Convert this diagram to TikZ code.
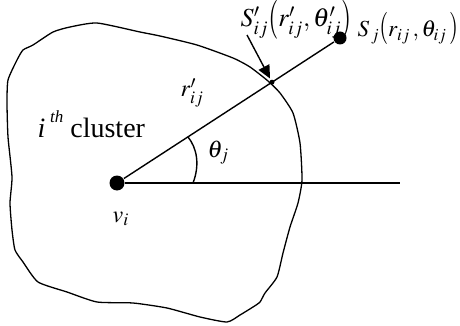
\documentclass[tikz,border=0pt]{standalone}
\usepackage{mathptmx}
\usepackage{fontspec}
\setmainfont{Liberation Serif}
\usepackage{tikz}
\usetikzlibrary{arrows.meta,calc,positioning}
\newcommand{\lpar}[2]{\raisebox{#2}{\scalebox{1}[#1]{$($}}}
\newcommand{\rpar}[2]{\raisebox{#2}{\scalebox{1}[#1]{$)$}}}

\begin{document}
\begin{tikzpicture}[x=1pt,y=-1pt,line width=1.4pt,
  bigdot/.style={circle,fill=black,inner sep=0pt},
  mlab/.style={font=\fontsize{24}{28}\selectfont,inner sep=0pt}]
  \useasboundingbox (0,0) rectangle (460,326);
  \draw[line width=1.3pt] plot[smooth cycle,tension=0.35] coordinates {
    (97,23) (140,32) (160,36) (197,45) (233,58) (250,67) (268,81) (280,93)
    (293,113) (300,143) (302,180) (298,203) (290,227) (283,253) (277,277)
    (265,293) (260,302) (253,307) (240,315) (227,322) (200,317) (167,308)
    (133,303) (97,302) (67,292) (38,282) (23,262) (15,250) (12,230) (10,203)
    (12,177) (8,137) (7,103) (8,80) (17,60) (23,50) (33,45) (53,32) (70,27)};
  \node[bigdot,minimum size=15pt] (vi) at (117,183) {};
  \node[bigdot,minimum size=13pt] (sj) at (340,38) {};
  \node[bigdot,minimum size=5pt] (sp) at ($(vi)!0.695!(sj)$) {};
  \coordinate (rayend) at (400,183);
  \coordinate (tail) at (247,35);
  \draw (vi) -- (sj);
  \draw (vi) -- (rayend);
  \draw[-{Triangle[length=13pt,width=12pt]},shorten >=1pt] (tail) -- (sp);
  \draw (193,183) .. controls (200,165) and (197,148) .. (188,137);
  \node[mlab,anchor=base west] (clus) at (37,137) {\fontsize{28}{32}\selectfont\textit{i}\,\raisebox{0.5em}{\fontsize{17}{20}\selectfont\textit{th}} cluster};
  \node[mlab,anchor=base west] (th) at (207,157) {$\theta_j$};
  \node[mlab,anchor=base west] (rp) at (180,97) {$r'_{ij}$};
  \node[mlab,anchor=base west] (vl) at (112,222) {$v_i$};
  \node[mlab,anchor=base west,font=\fontsize{26}{30}\selectfont] (spl) at (240,27)
    {$S'_{ij}\lpar{1.5}{-3pt}r'_{ij},\theta'_{ij}\rpar{1.5}{-3pt}$};
  \node[mlab,anchor=base west,font=\fontsize{23}{27}\selectfont] (sjl) at (357,37)
    {$S_{\,j}\lpar{1.4}{0pt}r_{ij}\,,\theta_{ij}\,\rpar{1.4}{0pt}$};
\end{tikzpicture}
\end{document}
